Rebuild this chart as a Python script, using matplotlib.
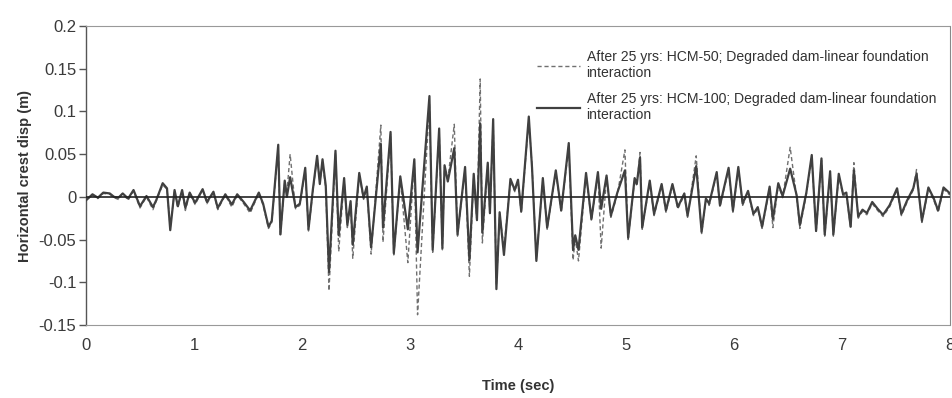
import matplotlib
matplotlib.use("Agg")
import matplotlib.pyplot as plt

plt.rcParams['font.family'] = ['Liberation Sans', 'DejaVu Sans']

time_s = [
    0.00, 0.06, 0.11, 0.16, 0.22, 0.26, 0.30, 0.34, 0.39, 0.44,
    0.50, 0.56, 0.62, 0.65, 0.71, 0.75, 0.78, 0.82, 0.85, 0.89,
    0.92, 0.96, 1.01, 1.08, 1.12, 1.18, 1.22, 1.29, 1.35, 1.40,
    1.46, 1.52, 1.60, 1.64, 1.69, 1.72, 1.78, 1.80, 1.84, 1.86,
    1.89, 1.94, 1.98, 2.03, 2.06, 2.10, 2.14, 2.165, 2.19, 2.22,
    2.25, 2.31, 2.34, 2.39, 2.42, 2.45, 2.47, 2.53, 2.57, 2.60,
    2.64, 2.73, 2.75, 2.82, 2.85, 2.91, 2.98, 3.04, 3.07, 3.18,
    3.21, 3.27, 3.30, 3.32, 3.35, 3.41, 3.44, 3.51, 3.55, 3.59,
    3.62, 3.65, 3.67, 3.72, 3.74, 3.77, 3.80, 3.83, 3.87, 3.93,
    3.97, 4.00, 4.03, 4.10, 4.13, 4.17, 4.23, 4.27, 4.35, 4.40,
    4.47, 4.51, 4.53, 4.56, 4.63, 4.68, 4.74, 4.77, 4.82, 4.86,
    4.92, 4.99, 5.02, 5.08, 5.10, 5.13, 5.15, 5.22, 5.26, 5.33,
    5.37, 5.43, 5.48, 5.54, 5.57, 5.65, 5.70, 5.74, 5.77, 5.84,
    5.87, 5.95, 5.99, 6.04, 6.08, 6.13, 6.18, 6.22, 6.26, 6.33,
    6.36, 6.41, 6.45, 6.52, 6.58, 6.61, 6.67, 6.72, 6.76, 6.81,
    6.84, 6.89, 6.92, 6.97, 7.01, 7.04, 7.08, 7.11, 7.15, 7.19,
    7.23, 7.28, 7.33, 7.38, 7.44, 7.51, 7.55, 7.60, 7.66, 7.69,
    7.74, 7.80, 7.85, 7.89, 7.94, 8.00,
]

hcm100 = [
    -0.004, 0.003, -0.001, 0.005, 0.004, 0.000, -0.001, 0.004, -0.002, 0.008,
    -0.011, 0.001, -0.012, -0.004, 0.016, 0.010, -0.039, 0.008, -0.011, 0.008,
    -0.013, 0.005, -0.007, 0.009, -0.006, 0.006, -0.013, 0.003, -0.009, 0.003,
    -0.006, -0.016, 0.005, -0.008, -0.035, -0.028, 0.061, -0.044, 0.019, 0.000,
    0.023, -0.012, -0.008, 0.034, -0.038, 0.008, 0.048, 0.015, 0.044, 0.013,
    -0.088, 0.054, -0.045, 0.022, -0.033, -0.005, -0.056, 0.028, -0.001, 0.012,
    -0.059, 0.062, -0.036, 0.076, -0.066, 0.024, -0.038, 0.044, -0.065, 0.118,
    -0.062, 0.080, -0.060, 0.037, 0.018, 0.057, -0.044, 0.035, -0.074, 0.027,
    -0.027, 0.086, -0.042, 0.040, -0.019, 0.091, -0.108, -0.018, -0.068, 0.021,
    0.008, 0.020, -0.017, 0.094, 0.034, -0.075, 0.022, -0.036, 0.031, -0.016,
    0.063, -0.062, -0.045, -0.062, 0.028, -0.026, 0.029, -0.014, 0.025, -0.022,
    0.005, 0.031, -0.048, 0.022, 0.015, 0.046, -0.036, 0.019, -0.020, 0.015,
    -0.016, 0.015, -0.012, 0.004, -0.022, 0.036, -0.041, -0.002, -0.008, 0.029,
    -0.010, 0.034, -0.016, 0.035, -0.008, 0.007, -0.020, -0.012, -0.035, 0.012,
    -0.026, 0.016, 0.001, 0.033, 0.002, -0.033, 0.005, 0.049, -0.040, 0.045,
    -0.044, 0.030, -0.044, 0.027, 0.003, 0.005, -0.035, 0.031, -0.023, -0.015,
    -0.019, -0.006, -0.014, -0.021, -0.010, 0.010, -0.020, -0.005, 0.010, 0.027,
    -0.028, 0.011, -0.002, -0.016, 0.011, 0.004,
]

hcm50 = [
    -0.004, 0.002, -0.002, 0.004, 0.003, -0.001, -0.003, 0.004, -0.004, 0.007,
    -0.013, 0.000, -0.015, -0.005, 0.014, 0.009, -0.036, 0.006, -0.013, 0.007,
    -0.016, 0.004, -0.009, 0.008, -0.008, 0.005, -0.015, 0.002, -0.012, 0.002,
    -0.008, -0.019, 0.004, -0.010, -0.037, -0.030, 0.058, -0.046, 0.017, 0.005,
    0.050, -0.014, -0.010, 0.032, -0.040, 0.006, 0.046, 0.018, 0.040, 0.010,
    -0.110, 0.052, -0.064, 0.020, -0.036, -0.008, -0.072, 0.026, -0.003, 0.010,
    -0.067, 0.084, -0.053, 0.074, -0.068, 0.022, -0.077, 0.042, -0.138, 0.110,
    -0.065, 0.078, -0.062, 0.035, 0.020, 0.085, -0.046, 0.033, -0.093, 0.025,
    -0.030, 0.138, -0.054, 0.038, -0.021, 0.088, -0.104, -0.020, -0.060, 0.019,
    0.006, 0.018, -0.019, 0.090, 0.036, -0.072, 0.020, -0.038, 0.029, -0.018,
    0.060, -0.074, -0.048, -0.075, 0.026, -0.028, 0.027, -0.060, 0.023, -0.024,
    0.003, 0.055, -0.050, 0.020, 0.013, 0.052, -0.038, 0.017, -0.022, 0.013,
    -0.018, 0.013, -0.014, 0.002, -0.024, 0.048, -0.043, -0.004, -0.010, 0.027,
    -0.012, 0.032, -0.018, 0.033, -0.010, 0.005, -0.022, -0.014, -0.037, 0.010,
    -0.036, 0.014, -0.001, 0.058, 0.000, -0.037, 0.003, 0.047, -0.042, 0.043,
    -0.046, 0.028, -0.046, 0.025, 0.001, 0.003, -0.037, 0.040, -0.025, -0.017,
    -0.021, -0.008, -0.016, -0.023, -0.012, 0.008, -0.022, -0.007, 0.008, 0.032,
    -0.030, 0.009, -0.004, -0.018, 0.009, 0.002,
]

y_ticks = [-0.15, -0.1, -0.05, 0, 0.05, 0.1, 0.15, 0.2]
y_tick_labels = ['-0.15', '-0.1', '-0.05', '0', '0.05', '0.1', '0.15', '0.2']
x_ticks = [0, 1, 2, 3, 4, 5, 6, 7, 8]

label_50 = "After 25 yrs: HCM-50; Degraded dam-linear foundation\ninteraction"
label_100 = "After 25 yrs: HCM-100; Degraded dam-linear foundation\ninteraction"

fig = plt.figure(figsize=(9.53, 3.98), dpi=100)
ax = fig.add_axes([86 / 953, 1 - 325 / 398, (950 - 86) / 953, 299 / 398])

ax.plot(time_s, hcm50, color='#707070', lw=1.0, ls=(0, (3, 2)), label=label_50, zorder=2)
ax.plot(time_s, hcm100, color='#404040', lw=1.6, ls='-', label=label_100, zorder=3)
ax.axhline(0, color='#222222', lw=1.2, zorder=4)

ax.set_xlim(0, 8)
ax.set_ylim(-0.15, 0.2)
ax.set_yticks(y_ticks)
ax.set_yticklabels(y_tick_labels)
ax.set_xticks(x_ticks)

ax.tick_params(axis='y', direction='out', length=5, width=1, color='#555555',
               labelsize=12, labelcolor='#3a3a3a', pad=2)
ax.tick_params(axis='x', length=0, labelsize=12, labelcolor='#3a3a3a', pad=9)

ax.spines['left'].set_color('#555555')
ax.spines['left'].set_linewidth(1.0)
for side in ('top', 'bottom'):
    ax.spines[side].set_color('#999999')
    ax.spines[side].set_linewidth(0.8)
    ax.spines[side].set_linestyle((0, (1, 1)))
ax.spines['right'].set_color('#888888')
ax.spines['right'].set_linewidth(0.8)

ax.set_ylabel('Horizontal crest disp (m)', fontsize=10.5, fontweight='bold',
              color='#333333', labelpad=5)
ax.set_xlabel('Time (sec)', fontsize=10.5, fontweight='bold', color='#333333',
              labelpad=19)

leg = fig.legend(loc='upper left', bbox_to_anchor=(527 / 953, 1 - 40 / 398),
                 frameon=False, fontsize=10.1, handlelength=3.1,
                 handletextpad=0.45, labelspacing=0.85, borderpad=0.2)
for t in leg.get_texts():
    t.set_color('#333333')

fig.savefig('out.png', dpi=100)
